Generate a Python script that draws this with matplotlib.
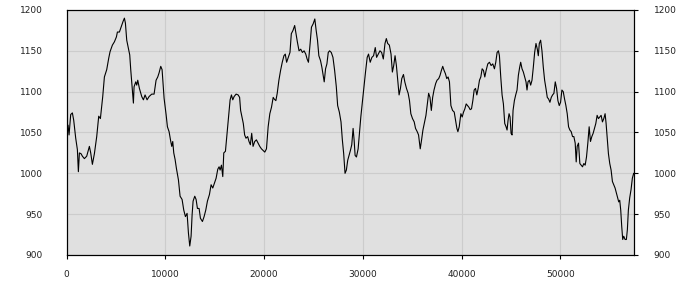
import matplotlib
matplotlib.use("Agg")
import matplotlib.pyplot as plt

# values
x_vals = [
    0, 135, 236, 405, 574, 709, 912, 1081, 1182, 1284, 1453, 1588, 1790, 2027,
    2297, 2432, 2601, 2804, 3040, 3243, 3412, 3649, 3818, 4054, 4257, 4392,
    4628, 4831, 5034, 5135, 5338, 5541, 5709, 5845, 5946, 6081, 6250, 6385,
    6486, 6622, 6757, 6824, 6993, 7095, 7196, 7365, 7601, 7770, 7939, 8142,
    8345, 8615, 8851, 9054, 9223, 9358, 9527, 9662, 9865, 10068, 10203, 10372,
    10541, 10642, 10743, 10845, 10980, 11115, 11318, 11486, 11689, 11858,
    12027, 12196, 12331, 12466, 12601, 12703, 12804, 12973, 13108, 13243,
    13412, 13547, 13750, 13919, 14088, 14257, 14459, 14628, 14797, 14966,
    15135, 15304, 15439, 15541, 15676, 15811, 15912, 16081, 16250, 16419,
    16554, 16689, 16824, 16959, 17162, 17365, 17517, 17619, 17755, 17891,
    18027, 18163, 18333, 18469, 18605, 18741, 18878, 19048, 19218, 19388,
    19558, 19728, 19898, 20068, 20238, 20408, 20578, 20748, 20918, 21020,
    21190, 21327, 21497, 21667, 21837, 22007, 22143, 22279, 22449, 22619,
    22755, 22925, 23095, 23231, 23367, 23537, 23707, 23878, 24048, 24218,
    24354, 24490, 24660, 24796, 24966, 25136, 25272, 25408, 25544, 25714,
    25850, 25986, 26088, 26224, 26361, 26497, 26633, 26803, 26973, 27143,
    27313, 27449, 27619, 27789, 27925, 28061, 28197, 28333, 28469, 28605,
    28741, 28878, 29014, 29116, 29218, 29354, 29524, 29660, 29796, 29966,
    30102, 30272, 30442, 30578, 30748, 30918, 31088, 31259, 31395, 31565,
    31735, 31905, 32075, 32245, 32381, 32517, 32687, 32857, 32993, 33129,
    33265, 33401, 33537, 33673, 33809, 33946, 34116, 34252, 34422, 34592,
    34728, 34864, 35034, 35204, 35340, 35510, 35646, 35816, 35952, 36088,
    36259, 36395, 36531, 36667, 36803, 36939, 37075, 37211, 37381, 37517,
    37687, 37823, 37959, 38095, 38231, 38367, 38503, 38639, 38776, 38923,
    39091, 39259, 39394, 39529, 39630, 39764, 39933, 40067, 40202, 40337,
    40471, 40606, 40741, 40875, 41010, 41145, 41279, 41414, 41549, 41684,
    41818, 41953, 42088, 42222, 42357, 42492, 42660, 42828, 42997, 43165,
    43333, 43468, 43603, 43737, 43838, 43973, 44108, 44242, 44377, 44512,
    44613, 44714, 44815, 44916, 45017, 45118, 45219, 45354, 45488, 45623,
    45758, 45892, 45993, 46128, 46263, 46397, 46532, 46633, 46734, 46869,
    47003, 47138, 47273, 47407, 47542, 47677, 47778, 47879, 48013, 48148,
    48283, 48418, 48552, 48687, 48822, 48956, 49091, 49226, 49360, 49495,
    49630, 49764, 49899, 50034, 50168, 50303, 50438, 50572, 50707, 50842,
    50976, 51111, 51246, 51380, 51515, 51616, 51717, 51852, 51987, 52121,
    52256, 52391, 52525, 52660, 52795, 52929, 53064, 53199, 53333, 53468,
    53603, 53737, 53872, 54007, 54141, 54276, 54411, 54545, 54646, 54747,
    54882, 55017, 55152, 55286, 55421, 55556, 55690, 55825, 55926, 56027,
    56128, 56229, 56330, 56431, 56566, 56700, 56801, 56902, 57037, 57172,
    57306, 57441, 57500,
]
y_vals = [
    1051, 1059, 1047, 1072, 1074, 1065, 1043, 1029, 1002, 1025, 1024, 1021,
    1018, 1021, 1033, 1025, 1011, 1024, 1045, 1070, 1067, 1094, 1118, 1127,
    1141, 1149, 1157, 1161, 1167, 1173, 1173, 1180, 1186, 1190, 1184, 1163,
    1153, 1145, 1127, 1106, 1086, 1106, 1112, 1108, 1114, 1104, 1094, 1090,
    1096, 1090, 1094, 1097, 1097, 1114, 1118, 1123, 1131, 1127, 1092, 1072,
    1057, 1051, 1039, 1033, 1039, 1025, 1017, 1006, 992, 972, 968, 955, 947,
    951, 927, 911, 923, 949, 966, 972, 968, 957, 957, 945, 941, 947, 955,
    966, 974, 986, 982, 988, 994, 1005, 1008, 1004, 1010, 996, 1025, 1027,
    1049, 1070, 1090, 1096, 1090, 1094, 1097, 1096, 1093, 1077, 1069, 1061,
    1047, 1043, 1045, 1039, 1035, 1049, 1033, 1039, 1041, 1037, 1033, 1030,
    1028, 1026, 1030, 1057, 1073, 1081, 1093, 1091, 1089, 1098, 1114, 1126,
    1136, 1144, 1146, 1136, 1142, 1148, 1171, 1175, 1181, 1171, 1161, 1150,
    1152, 1148, 1150, 1146, 1140, 1136, 1159, 1179, 1183, 1189, 1175, 1163,
    1144, 1138, 1130, 1120, 1112, 1128, 1134, 1148, 1150, 1148, 1142, 1126,
    1106, 1083, 1075, 1063, 1041, 1024, 1000, 1004, 1016, 1022, 1028, 1035,
    1055, 1041, 1022, 1020, 1030, 1049, 1069, 1089, 1104, 1124, 1142, 1146,
    1136, 1142, 1144, 1154, 1142, 1146, 1150, 1148, 1140, 1159, 1165, 1159,
    1157, 1146, 1124, 1132, 1144, 1132, 1114, 1096, 1104, 1116, 1121, 1112,
    1104, 1098, 1089, 1073, 1067, 1063, 1055, 1051, 1047, 1030, 1041, 1053,
    1063, 1071, 1085, 1098, 1093, 1077, 1093, 1102, 1110, 1114, 1116, 1120,
    1126, 1131, 1126, 1122, 1116, 1118, 1112, 1083, 1077, 1075, 1065, 1055,
    1051, 1057, 1073, 1069, 1075, 1079, 1085, 1083, 1081, 1078, 1079, 1089,
    1102, 1104, 1096, 1104, 1114, 1118, 1128, 1126, 1118, 1126, 1134, 1136,
    1132, 1134, 1128, 1136, 1148, 1150, 1144, 1118, 1096, 1085, 1061, 1057,
    1053, 1065, 1073, 1069, 1049, 1047, 1077, 1089, 1096, 1102, 1120, 1130,
    1136, 1128, 1124, 1118, 1112, 1102, 1112, 1114, 1108, 1114, 1130, 1148,
    1159, 1152, 1144, 1159, 1163, 1150, 1130, 1114, 1104, 1093, 1091, 1087,
    1093, 1096, 1098, 1112, 1104, 1089, 1083, 1087, 1102, 1100, 1091, 1083,
    1073, 1057, 1053, 1051, 1045, 1045, 1037, 1014, 1033, 1037, 1012, 1010,
    1008, 1012, 1010, 1020, 1037, 1057, 1039, 1045, 1049, 1055, 1061, 1071,
    1067, 1069, 1071, 1063, 1067, 1073, 1061, 1045, 1024, 1012, 1004, 990,
    986, 982, 976, 970, 965, 967, 955, 935, 919, 923, 919, 919, 931, 955, 970,
    980, 994, 1000, 1000,
]
x_ticks = [0, 10000, 20000, 30000, 40000, 50000]
y_ticks = [900, 950, 1000, 1050, 1100, 1150, 1200]


def main():
    fig = plt.figure(figsize=(7, 3), dpi=100)
    ax = fig.add_axes([0.0953, 0.15, 0.8108, 0.8167])
    ax.set_facecolor("#e0e0e0")

    ax.plot(x_vals, y_vals, color="black", linewidth=0.8)

    ax.set_xlim(0, 57500)
    ax.set_ylim(900, 1200)
    ax.set_xticks(x_ticks)
    ax.set_yticks(y_ticks)
    ax.set_xticklabels([str(t) for t in x_ticks])
    ax.grid(True, color="#cccccc", linewidth=0.8)
    ax.set_axisbelow(True)

    for s in ax.spines.values():
        s.set_color("black")
        s.set_linewidth(0.8)

    ax.tick_params(axis="x", direction="out", length=3, width=0.8,
                   pad=8, labelsize=6.5, labelcolor="#222222")
    # left side: labels only, no tick marks
    ax.tick_params(axis="y", direction="out", length=0, pad=17,
                   labelsize=6.5, labelcolor="#222222")

    # right side: ticks and labels
    ax2 = ax.twinx()
    ax2.set_ylim(900, 1200)
    ax2.set_yticks(y_ticks)
    ax2.tick_params(axis="y", direction="out", length=3, width=0.8,
                    pad=11, labelsize=6.5, labelcolor="#222222")
    for s in ax2.spines.values():
        s.set_color("black")
        s.set_linewidth(0.8)

    fig.savefig("out.png", dpi=100)


if __name__ == '__main__':
    main()
